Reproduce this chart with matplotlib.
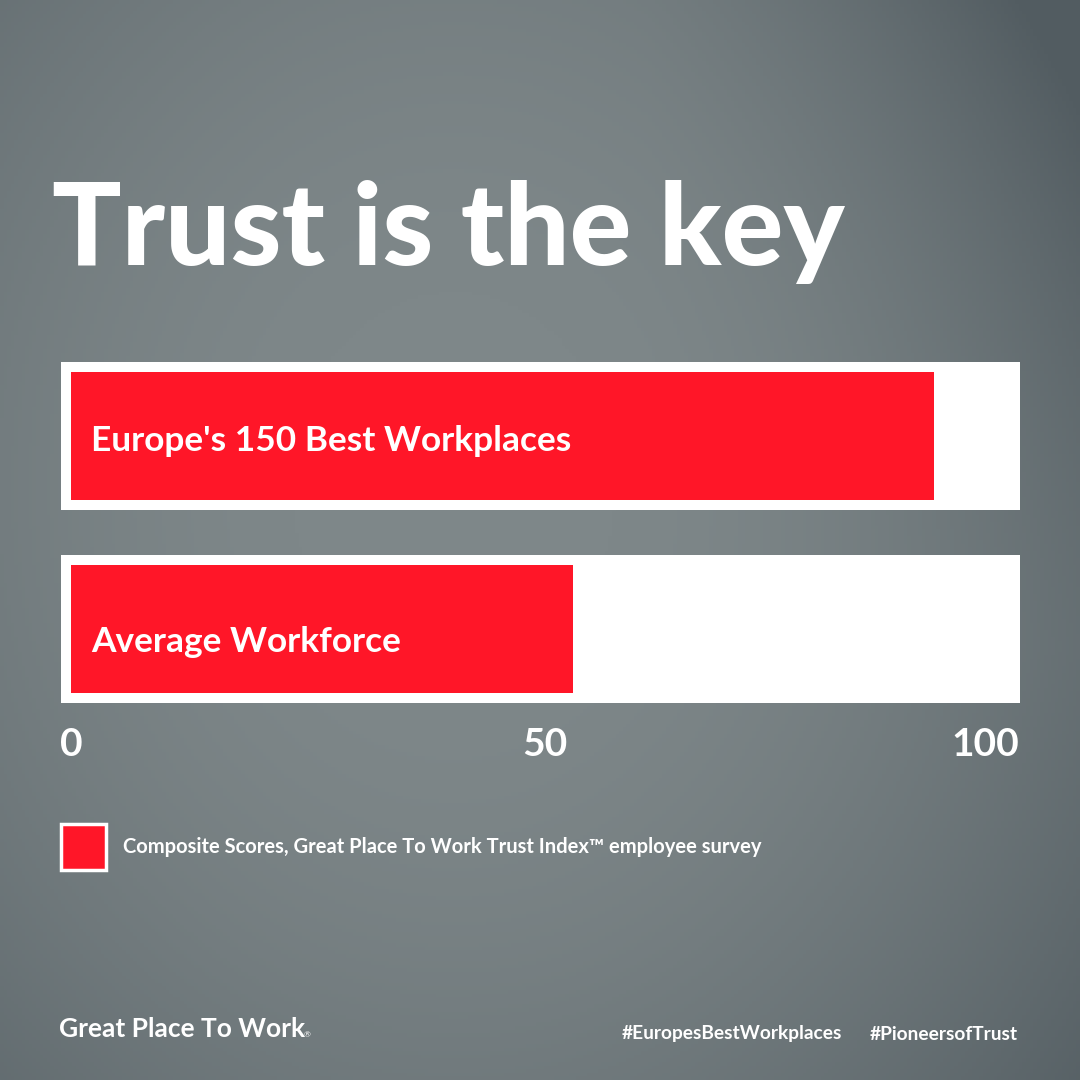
import numpy as np
import matplotlib.pyplot as plt
from matplotlib.patches import Rectangle

# data
categories = ["Europe's 150 Best Workplaces", "Average Workforce"]
scores = [91, 53]
ticks = [0, 50, 100]
title = "Trust is the key"
legend_text = "Composite Scores, Great Place To Work Trust Index\u2122 employee survey"
hashtags = ["#EuropesBestWorkplaces", "#PioneersofTrust"]

red = "#ff1628"
font = "Lato"
W = 1080.0

fig = plt.figure(figsize=(10.8, 10.8), dpi=100)

# grey photo-like background (light centre, darker edges / top right)
bg = fig.add_axes([0, 0, 1, 1])
yy, xx = np.mgrid[0:1:300j, 0:1:300j]
d = np.sqrt(((xx - 0.42) / 1.0) ** 2 + ((yy - 0.45) / 1.2) ** 2)
d = d + 0.18 * np.clip(xx - 0.6, 0, 1) * np.clip(0.6 - yy, 0, 1) * 4
light = np.array([126, 135, 137]) / 255
dark = np.array([82, 92, 97]) / 255
t = np.clip((d - 0.15) / 0.65, 0, 1)[..., None] ** 1.6
img = light * (1 - t) + dark * t
bg.imshow(img, extent=[0, 1, 0, 1], aspect="auto", origin="upper")
bg.set_axis_off()

fig.text(52 / W, 1 - 265 / W, title, color="white", fontsize=83,
         fontweight="black", family=font, ha="left", va="baseline")

# chart axes: x=0 at px 71, x=100 at px 1019
x0, x1 = 71, 1019
ax = fig.add_axes([x0 / W, 1 - 703 / W, (x1 - x0) / W, (703 - 362) / W])
ax.set_xlim(0, 100)
ax.set_ylim(703, 362)
ax.patch.set_alpha(0)
for s in ax.spines.values():
    s.set_visible(False)

unit = 100 / (x1 - x0)
track_left = (61 - x0) * unit
track_right = (1020 - x0) * unit
tops = [362, 555]
baselines = [451, 652]
for i, (cat, val) in enumerate(zip(categories, scores)):
    top = tops[i]
    ax.add_patch(Rectangle((track_left, top), track_right - track_left, 148,
                           facecolor="white", edgecolor="none", clip_on=False))
    ax.barh(top + 74, val, height=128, left=0, color=red, clip_on=False)
    ax.text(20 * unit, baselines[i], cat, color="white", fontsize=25.4,
            fontweight="bold", family=font, ha="left", va="baseline")

ax.set_xticks(ticks)
ax.set_xticklabels([str(v) for v in ticks], color="white", fontsize=28,
                   fontweight="bold", family=font)
ax.tick_params(axis="x", length=0, pad=17)
ax.get_xticklabels()[-1].set_ha("right")
ax.set_yticks([])

# legend
fig.patches.append(Rectangle((61 / W, 1 - 870 / W), 45 / W, 46 / W,
                             facecolor=red, edgecolor="white", linewidth=2.5,
                             transform=fig.transFigure))
fig.text(123 / W, 1 - 847 / W, legend_text, color="white", fontsize=14.5,
         fontweight="bold", family=font, ha="left", va="center")

# footer
fig.text(59 / W, 1 - 1029 / W, "Great Place To Work", color="white",
         fontsize=19, fontweight="bold", family=font, ha="left", va="center")
fig.text(304 / W, 1 - 1035 / W, "\u00ae", color="white", fontsize=6,
         family=font, ha="left", va="center")
fig.text(1018 / W, 1 - 1034 / W, hashtags[1], color="white", fontsize=13.8,
         fontweight="bold", family=font, ha="right", va="center")
fig.text(842 / W, 1 - 1034 / W, hashtags[0], color="white", fontsize=13.8,
         fontweight="bold", family=font, ha="right", va="center")

fig.savefig("out.png", dpi=100)
